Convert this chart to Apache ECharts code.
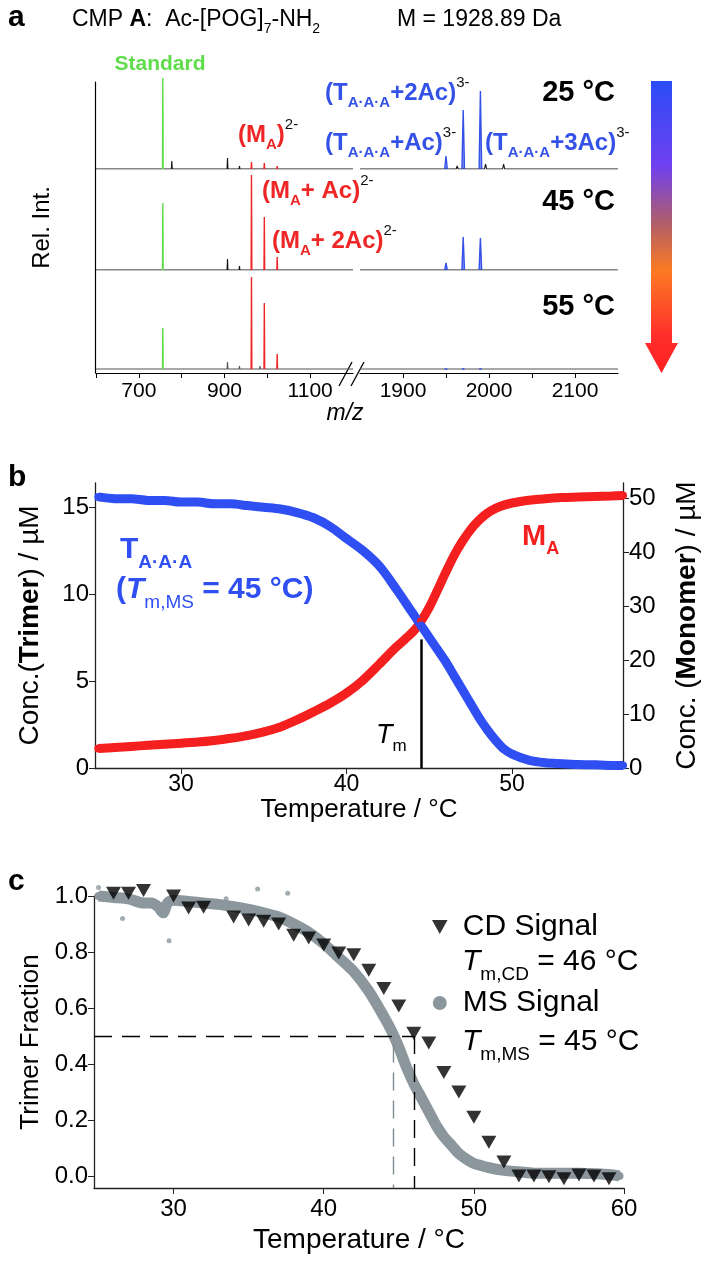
<!DOCTYPE html>
<html><head><meta charset="utf-8">
<script src="https://cdn.jsdelivr.net/npm/echarts@6/dist/echarts.min.js"></script>
<style>html,body{margin:0;padding:0;background:#fff}#c{width:709px;height:1270px}</style>
</head><body><div id="c"></div>
<script>
// ================= DATA =================
// Panel a: mass spectra at three temperatures (relative intensity, %)
const spectrumTemps = ['25 °C', '45 °C', '55 °C'];
const standardMz = [756];
const standardInt = [[91], [67], [41]];
const monomerMz = [963, 993, 1023];
const monomerInt = [[7, 6, 3], [95, 53, 13], [92, 66, 15]];
const trimerMz = [1950, 1970, 1990];
const trimerInt = [[13, 59, 78], [7, 33, 32], [1, 1, 1]];
const minorMz = [660, 777, 830, 860, 885, 907, 935, 983, 1010, 1060, 1931, 1963, 1981, 1996, 2010, 2017, 2040, 2070];
const minorInt = [
  [1, 8, 1, 1, 1, 11, 3, 2, 1, 1, 2, 3, 2, 5, 2, 5, 1, 1],
  [1, 2, 1, 1, 1, 11, 4, 2, 1, 1, 1, 1, 1, 1, 1, 2, 1, 1],
  [1, 2, 1, 1, 1, 7, 3, 3, 1, 1, 1, 1, 1, 1, 1, 1, 1, 1]
];
const leftTicksA = [600, 700, 800, 900, 1000, 1100];
const leftLabelsA = [700, 900, 1100];
const rightTicksA = [1900, 1950, 2000, 2050, 2100];
const rightLabelsA = [1900, 2000, 2100];

// Panel b: concentrations vs temperature
const tempB = [25,26,27,28,29,30,31,32,33,34,35,36,37,38,39,40,41,42,43,44,44.5,45,45.5,46,46.5,47,47.5,48,48.5,49,49.5,50,51,52,53,54,55,56,56.7];
const trimerConc = [15.6,15.5,15.5,15.4,15.4,15.3,15.3,15.2,15.2,15.1,15.0,14.9,14.7,14.4,13.9,13.2,12.5,11.6,10.3,8.9,8.2,7.5,6.8,6.1,5.3,4.5,3.7,2.9,2.2,1.6,1.1,0.8,0.45,0.3,0.25,0.2,0.18,0.15,0.15];
const monomerConc = [3.6,3.8,4.0,4.2,4.4,4.6,4.8,5.1,5.5,6.0,6.7,7.6,8.9,10.4,12.0,13.9,16.3,19.3,22.4,25.2,27.2,29.8,33.0,36.3,39.4,42.0,44.2,45.9,47.2,48.1,48.7,49.1,49.6,49.9,50.1,50.2,50.3,50.4,50.5];
const tmB = 44.5, tmBTop = 7.4;
const ticksBx = [30, 40, 50];
const ticksBleft = [0, 5, 10, 15];
const ticksBright = [0, 10, 20, 30, 40, 50];

// Panel c: trimer fraction
const tempC = [25,26,27,28,28.5,29,29.3,29.6,30,31,32,33,34,35,36,37,38,39,40,41,42,43,44,44.5,45,45.5,46,46.5,47,47.5,48,48.5,49,49.5,50,51,52,53,54,55,56,57,58,59,59.7];
const msFraction = [1.0,0.995,0.99,0.975,0.975,0.96,0.94,0.975,0.985,0.98,0.975,0.97,0.962,0.952,0.94,0.925,0.9,0.87,0.83,0.78,0.73,0.66,0.57,0.52,0.46,0.39,0.33,0.28,0.23,0.18,0.14,0.11,0.08,0.06,0.045,0.03,0.02,0.015,0.01,0.01,0.01,0.01,0.008,0.005,0.0];
const msOutlierT = [25.0, 26.6, 29.4, 29.7, 33.5, 35.6, 37.6];
const msOutlierV = [1.03, 0.92, 0.93, 0.84, 0.99, 1.025, 1.01];
const cdTemp = [26,27,28,30,31,32,34,35,36,37,38,39,40,41,42,43,44,45,46,47,48,49,50,51,52,53,54,55,56,57,58,59];
const cdFraction = [1.01,1.01,1.02,1.0,0.957,0.96,0.925,0.914,0.91,0.90,0.86,0.85,0.825,0.796,0.79,0.735,0.67,0.607,0.51,0.475,0.37,0.30,0.21,0.12,0.05,0.0,0.0,-0.003,-0.01,0.003,0.0,-0.01];
const tmCD = 46, tmMSLine = 44.6, halfFraction = 0.5;
const ticksCx = [30, 40, 50, 60];
const ticksCy = [0, 0.2, 0.4, 0.6, 0.8, 1.0];

// ================= STYLE =================
const FONT = "'Liberation Sans', Arial, Helvetica, sans-serif";
const GREEN = '#5fdc4a', RED = '#ee2626', BLUE = '#3552e8';
const BLUE_B = '#2f4ff2', RED_B = '#f41f1f', GRAY = '#8b979d';

function spikes(mz, ints, w) {
  const d = [];
  mz.forEach((m, k) => { d.push([m - w, 0], [m, ints[k]], [m + w, 0], [m + w, '-']); });
  return d;
}
function baseline(mz, ints, lo, hi, w) {
  const d = [[lo, 0]];
  mz.forEach((m, k) => { if (m > lo && m < hi) d.push([m - w, 0], [m, ints[k]], [m + w, 0]); });
  d.push([hi, 0]);
  return d;
}
function rich(size, color, extra) {
  const base = { fontFamily: FONT, fontSize: size, lineHeight: Math.round(size * 1.45), fill: color, color: color };
  return Object.assign({
    n: Object.assign({}, base),
    b: Object.assign({}, base, { fontWeight: 'bold' }),
    i: Object.assign({}, base, { fontStyle: 'italic' }),
    bi: Object.assign({}, base, { fontStyle: 'italic', fontWeight: 'bold' }),
    sub: { fontFamily: FONT, fontSize: Math.round(size * 0.62), lineHeight: Math.round(size * 0.62), verticalAlign: 'bottom', fill: color, color: color },
    subb: { fontFamily: FONT, fontSize: Math.round(size * 0.62), lineHeight: Math.round(size * 0.62), verticalAlign: 'bottom', fontWeight: 'bold', fill: color, color: color },
    sup: { fontFamily: FONT, fontSize: Math.round(size * 0.62), lineHeight: Math.round(size * 0.62), verticalAlign: 'top', fill: '#111', color: '#111' }
  }, extra || {});
}
function txt(x, y, text, r, align) {
  return { type: 'text', x: x, y: y, silent: true, z: 50,
    style: { text: text, align: align || 'left', verticalAlign: 'middle', rich: r, font: '20px ' + FONT } };
}

// ================= PANEL A grids/axes/series =================
const baselinesA = [169, 270, 369];
const grids = [], xAxes = [], yAxes = [], series = [];

// grid 0 : left axis line of panel a
grids.push({ left: 95, top: 82, width: 1, height: 291 });
xAxes.push({ gridIndex: 0, type: 'value', show: false, min: 0, max: 1 });
yAxes.push({ gridIndex: 0, type: 'value', min: 0, max: 1,
  axisLine: { show: true, lineStyle: { color: '#000', width: 1.2 } }, axisTick: { show: false },
  axisLabel: { show: false }, splitLine: { show: false },
  name: 'Rel. Int.', nameLocation: 'middle', nameGap: 41,
  nameTextStyle: { fontFamily: FONT, fontSize: 24, color: '#000' } });

for (let r = 0; r < 3; r++) {
  const last = r === 2;
  const top = last ? 269 : baselinesA[r] - 100;
  const h = last ? 104 : 100;
  const yMin = last ? -4 : 0;
  [['L', 96, 257, 600, 1200], ['R', 360, 258, 1850, 2150]].forEach(([side, left, width, mn, mx]) => {
    const gi = grids.length;
    grids.push({ left: left, top: top, width: width, height: h });
    const isL = side === 'L';
    xAxes.push({ gridIndex: gi, type: 'value', min: mn, max: mx, show: last,
      interval: isL ? 100 : 50,
      axisLine: { show: true, onZero: false, lineStyle: { color: '#000', width: 1.2 } },
      axisTick: { show: true, length: 5, lineStyle: { color: '#000' }, customValues: isL ? leftTicksA : rightTicksA },
      axisLabel: { show: true, fontFamily: FONT, fontSize: 21, color: '#000', margin: 8,
        customValues: isL ? leftLabelsA : rightLabelsA, formatter: v => String(v) },
      splitLine: { show: false } });
    yAxes.push({ gridIndex: gi, type: 'value', min: yMin, max: 100, show: false, splitLine: { show: false } });
    series.push({ type: 'line', xAxisIndex: gi, yAxisIndex: gi, symbol: 'none', silent: true,
      lineStyle: { color: last ? '#555' : '#111', width: 1.1 },
      data: baseline(minorMz, minorInt[r], mn, mx, isL ? 1 : 1.2) });
    if (isL) {
      series.push({ type: 'line', xAxisIndex: gi, yAxisIndex: gi, symbol: 'none', silent: true,
        lineStyle: { color: GREEN, width: 1.4 }, data: spikes(standardMz, standardInt[r], 0.8) });
      series.push({ type: 'line', xAxisIndex: gi, yAxisIndex: gi, symbol: 'none', silent: true,
        lineStyle: { color: RED, width: 1.4 }, data: spikes(monomerMz, monomerInt[r], 0.8) });
    } else {
      series.push({ type: 'line', xAxisIndex: gi, yAxisIndex: gi, symbol: 'none', silent: true,
        lineStyle: { color: BLUE, width: 1.4 }, areaStyle: { color: BLUE, opacity: 0.6, origin: 0 },
        data: spikes(trimerMz, trimerInt[r], 1.5) });
    }
  });
}

// ================= PANEL B =================
const gB = grids.length;
grids.push({ left: 95, top: 483, width: 528, height: 285 });
xAxes.push({ gridIndex: gB, type: 'value', min: 24.8, max: 56.7,
  axisLine: { onZero: false, lineStyle: { color: '#222', width: 1.3 } },
  axisTick: { length: 6, lineStyle: { color: '#222' }, customValues: ticksBx },
  axisLabel: { fontFamily: FONT, fontSize: 23, color: '#000', margin: 5, customValues: ticksBx },
  splitLine: { show: false },
  name: 'Temperature / °C', nameLocation: 'middle', nameGap: 23,
  nameTextStyle: { fontFamily: FONT, fontSize: 26, color: '#000' } });
const yBL = yAxes.length;
yAxes.push({ gridIndex: gB, type: 'value', min: 0, max: 16.4, position: 'left',
  axisLine: { show: true, onZero: false, lineStyle: { color: '#222', width: 1.3 } },
  axisTick: { show: true, length: 6, lineStyle: { color: '#222' }, customValues: ticksBleft },
  axisLabel: { fontFamily: FONT, fontSize: 24, color: '#000', margin: 6, customValues: ticksBleft },
  splitLine: { show: false },
  name: 'Conc.({b|Trimer}) / µM', nameLocation: 'middle', nameGap: 51,
  nameTextStyle: { fontFamily: FONT, fontSize: 28, color: '#000',
    rich: { b: { fontFamily: FONT, fontSize: 28, fontWeight: 'bold', color: '#000' } } } });
const yBR = yAxes.length;
yAxes.push({ gridIndex: gB, type: 'value', min: 0, max: 52.8, position: 'right',
  axisLine: { show: true, onZero: false, lineStyle: { color: '#222', width: 1.3 } },
  axisTick: { show: true, length: 6, lineStyle: { color: '#222' }, customValues: ticksBright },
  axisLabel: { fontFamily: FONT, fontSize: 24, color: '#000', margin: 6, customValues: ticksBright },
  splitLine: { show: false },
  name: 'Conc. ({b|Monomer}) / µM', nameLocation: 'middle', nameGap: 50, nameRotate: 90,
  nameTextStyle: { fontFamily: FONT, fontSize: 28, color: '#000',
    rich: { b: { fontFamily: FONT, fontSize: 28, fontWeight: 'bold', color: '#000' } } } });
series.push({ type: 'line', name: 'Monomer', xAxisIndex: gB, yAxisIndex: yBR, smooth: 0.3,
  symbol: 'circle', symbolSize: 8, showSymbol: true, itemStyle: { color: RED_B },
  lineStyle: { color: RED_B, width: 9 }, silent: true, clip: false,
  data: tempB.map((t, k) => [t, monomerConc[k]]) });
series.push({ type: 'line', name: 'Trimer', xAxisIndex: gB, yAxisIndex: yBL, smooth: 0.3,
  symbol: 'circle', symbolSize: 8, showSymbol: true, itemStyle: { color: BLUE_B },
  lineStyle: { color: BLUE_B, width: 9 }, silent: true, clip: false,
  data: tempB.map((t, k) => [t, trimerConc[k]]),
  markLine: { silent: true, symbol: 'none', label: { show: false },
    lineStyle: { color: '#000', width: 2.5, type: 'solid' },
    data: [[{ coord: [tmB, 0] }, { coord: [tmB, tmBTop] }]] } });

// ================= PANEL C =================
const gC = grids.length;
grids.push({ left: 94, top: 896, width: 530, height: 292 });
xAxes.push({ gridIndex: gC, type: 'value', min: 24.7, max: 60,
  axisLine: { onZero: false, lineStyle: { color: '#222', width: 1.3 } },
  axisTick: { length: 6, lineStyle: { color: '#222' }, customValues: ticksCx },
  axisLabel: { fontFamily: FONT, fontSize: 24, color: '#000', margin: 9, customValues: ticksCx },
  splitLine: { show: false },
  name: 'Temperature / °C', nameLocation: 'middle', nameGap: 38,
  nameTextStyle: { fontFamily: FONT, fontSize: 28, color: '#000' } });
const yC = yAxes.length;
yAxes.push({ gridIndex: gC, type: 'value', min: -0.043, max: 1.0,
  axisLine: { show: true, onZero: false, lineStyle: { color: '#222', width: 1.3 } },
  axisTick: { show: true, length: 6, lineStyle: { color: '#222' }, customValues: ticksCy },
  axisLabel: { fontFamily: FONT, fontSize: 24, color: '#000', margin: 6, customValues: ticksCy,
    formatter: v => Number(v).toFixed(1) },
  splitLine: { show: false },
  name: 'Trimer Fraction', nameLocation: 'middle', nameGap: 50,
  nameTextStyle: { fontFamily: FONT, fontSize: 26, color: '#000' } });
series.push({ type: 'line', name: 'MS Signal', xAxisIndex: gC, yAxisIndex: yC, smooth: 0.3,
  symbol: 'circle', symbolSize: 8, itemStyle: { color: GRAY }, lineStyle: { color: GRAY, width: 11 },
  silent: true, clip: false, data: tempC.map((t, k) => [t, msFraction[k]]) });
series.push({ type: 'scatter', xAxisIndex: gC, yAxisIndex: yC, symbolSize: 5, itemStyle: { color: GRAY },
  silent: true, clip: false, data: msOutlierT.map((t, k) => [t, msOutlierV[k]]) });
series.push({ type: 'scatter', name: 'CD Signal', xAxisIndex: gC, yAxisIndex: yC,
  symbol: 'path://M0,0L10,0L5,9Z', symbolSize: [15, 13], itemStyle: { color: '#000' },
  silent: true, clip: false, z: 5, data: cdTemp.map((t, k) => [t, cdFraction[k]]),
  markLine: { silent: true, symbol: 'none', label: { show: false },
    data: [
      [{ coord: [24.7, halfFraction], lineStyle: { color: '#000', width: 1.4, type: [18, 10] } }, { coord: [tmCD, halfFraction] }],
      [{ coord: [tmCD, halfFraction], lineStyle: { color: '#000', width: 1.4, type: [18, 10] } }, { coord: [tmCD, -0.043] }],
      [{ coord: [tmMSLine, 0.47], lineStyle: { color: '#7f8a90', width: 1.4, type: [18, 10] } }, { coord: [tmMSLine, -0.043] }]
    ] } });

// ================= TEXT / DECORATION =================
const rTitle = rich(23, '#000');
const rBlue = rich(24, BLUE);
const rRed = rich(24, RED);
const rBlueB = rich(30, BLUE_B);
const rRedB = rich(29, RED_B);
const rBig = rich(29, '#000');
const rLetter = rich(30, '#000');
const rLeg = rich(30, '#000');
const graphics = [
  txt(8, 18, '{b|a}', rLetter),
  txt(72, 20, '{n|CMP }{b|A}{n|:  Ac-[POG]}{sub|7}{n|-NH}{sub|2}', rTitle),
  txt(397, 20, '{n|M = 1928.89 Da}', rTitle),
  txt(160, 64, '{b|Standard}', rich(21, GREEN), 'center'),
  txt(325, 93, '{b|(T}{subb|A·A·A}{b|+2Ac)}{sup|3-}', rBlue),
  txt(325, 143, '{b|(T}{subb|A·A·A}{b|+Ac)}{sup|3-}', rBlue),
  txt(485, 143, '{b|(T}{subb|A·A·A}{b|+3Ac)}{sup|3-}', rBlue),
  txt(238, 135, '{b|(M}{subb|A}{b|)}{sup|2-}', rRed),
  txt(262, 191, '{b|(M}{subb|A}{b|+ Ac)}{sup|2-}', rRed),
  txt(272, 241, '{b|(M}{subb|A}{b|+ 2Ac)}{sup|2-}', rRed),
  txt(615, 93, '{b|' + spectrumTemps[0] + '}', rBig, 'right'),
  txt(615, 202, '{b|' + spectrumTemps[1] + '}', rBig, 'right'),
  txt(615, 307, '{b|' + spectrumTemps[2] + '}', rBig, 'right'),
  txt(345, 414, '{i|m/z}', rich(23, '#000'), 'center'),
  txt(8, 478, '{b|b}', rLetter),
  txt(120, 550, '{b|T}{subb|A·A·A}', rBlueB),
  txt(116, 590, '{b|(}{bi|T}{sub|m,MS}{b| = 45 °C)}', rBlueB),
  txt(522, 537, '{b|M}{subb|A}', rRedB),
  txt(376, 735, '{i|T}{sub|m}', rich(27, '#000')),
  txt(8, 882, '{b|c}', rLetter),
  txt(462, 962, '{i|T}{sub|m,CD}{n| = 46 °C}', rLeg),
  txt(462, 1042, '{i|T}{sub|m,MS}{n| = 45 °C}', rLeg),
  // axis break marks
  { type: 'line', silent: true, shape: { x1: 339, y1: 386, x2: 352, y2: 362 }, style: { stroke: '#000', lineWidth: 1.3 } },
  { type: 'line', silent: true, shape: { x1: 351, y1: 386, x2: 364, y2: 362 }, style: { stroke: '#000', lineWidth: 1.3 } },
  // temperature gradient arrow
  { type: 'polygon', silent: true,
    shape: { points: [[651, 81], [672, 81], [672, 343], [678, 343], [661.5, 373], [645, 343], [651, 343]] },
    style: { fill: new echarts.graphic.LinearGradient(0, 0, 0, 1, [
      { offset: 0, color: '#2a4cf7' }, { offset: 0.29, color: '#7040f0' }, { offset: 0.48, color: '#ae5d6c' },
      { offset: 0.65, color: '#fb7a22' }, { offset: 0.88, color: '#ff2c2c' }, { offset: 1, color: '#ff2020' }]) } }
];

const chart = echarts.init(document.getElementById('c'), null, { renderer: 'canvas' });
chart.setOption({
  animation: false,
  backgroundColor: '#fff',
  grid: grids, xAxis: xAxes, yAxis: yAxes, series: series,
  legend: { orient: 'vertical', left: 427, top: 907, itemGap: 46, itemWidth: 16, itemHeight: 14,
    selectedMode: false, textStyle: { fontFamily: FONT, fontSize: 30, color: '#000', padding: [0, 0, 0, 10] },
    data: [{ name: 'CD Signal', icon: 'path://M0,0L10,0L5,9Z' }, { name: 'MS Signal', icon: 'circle' }] },
  graphic: graphics
});
</script></body></html>
